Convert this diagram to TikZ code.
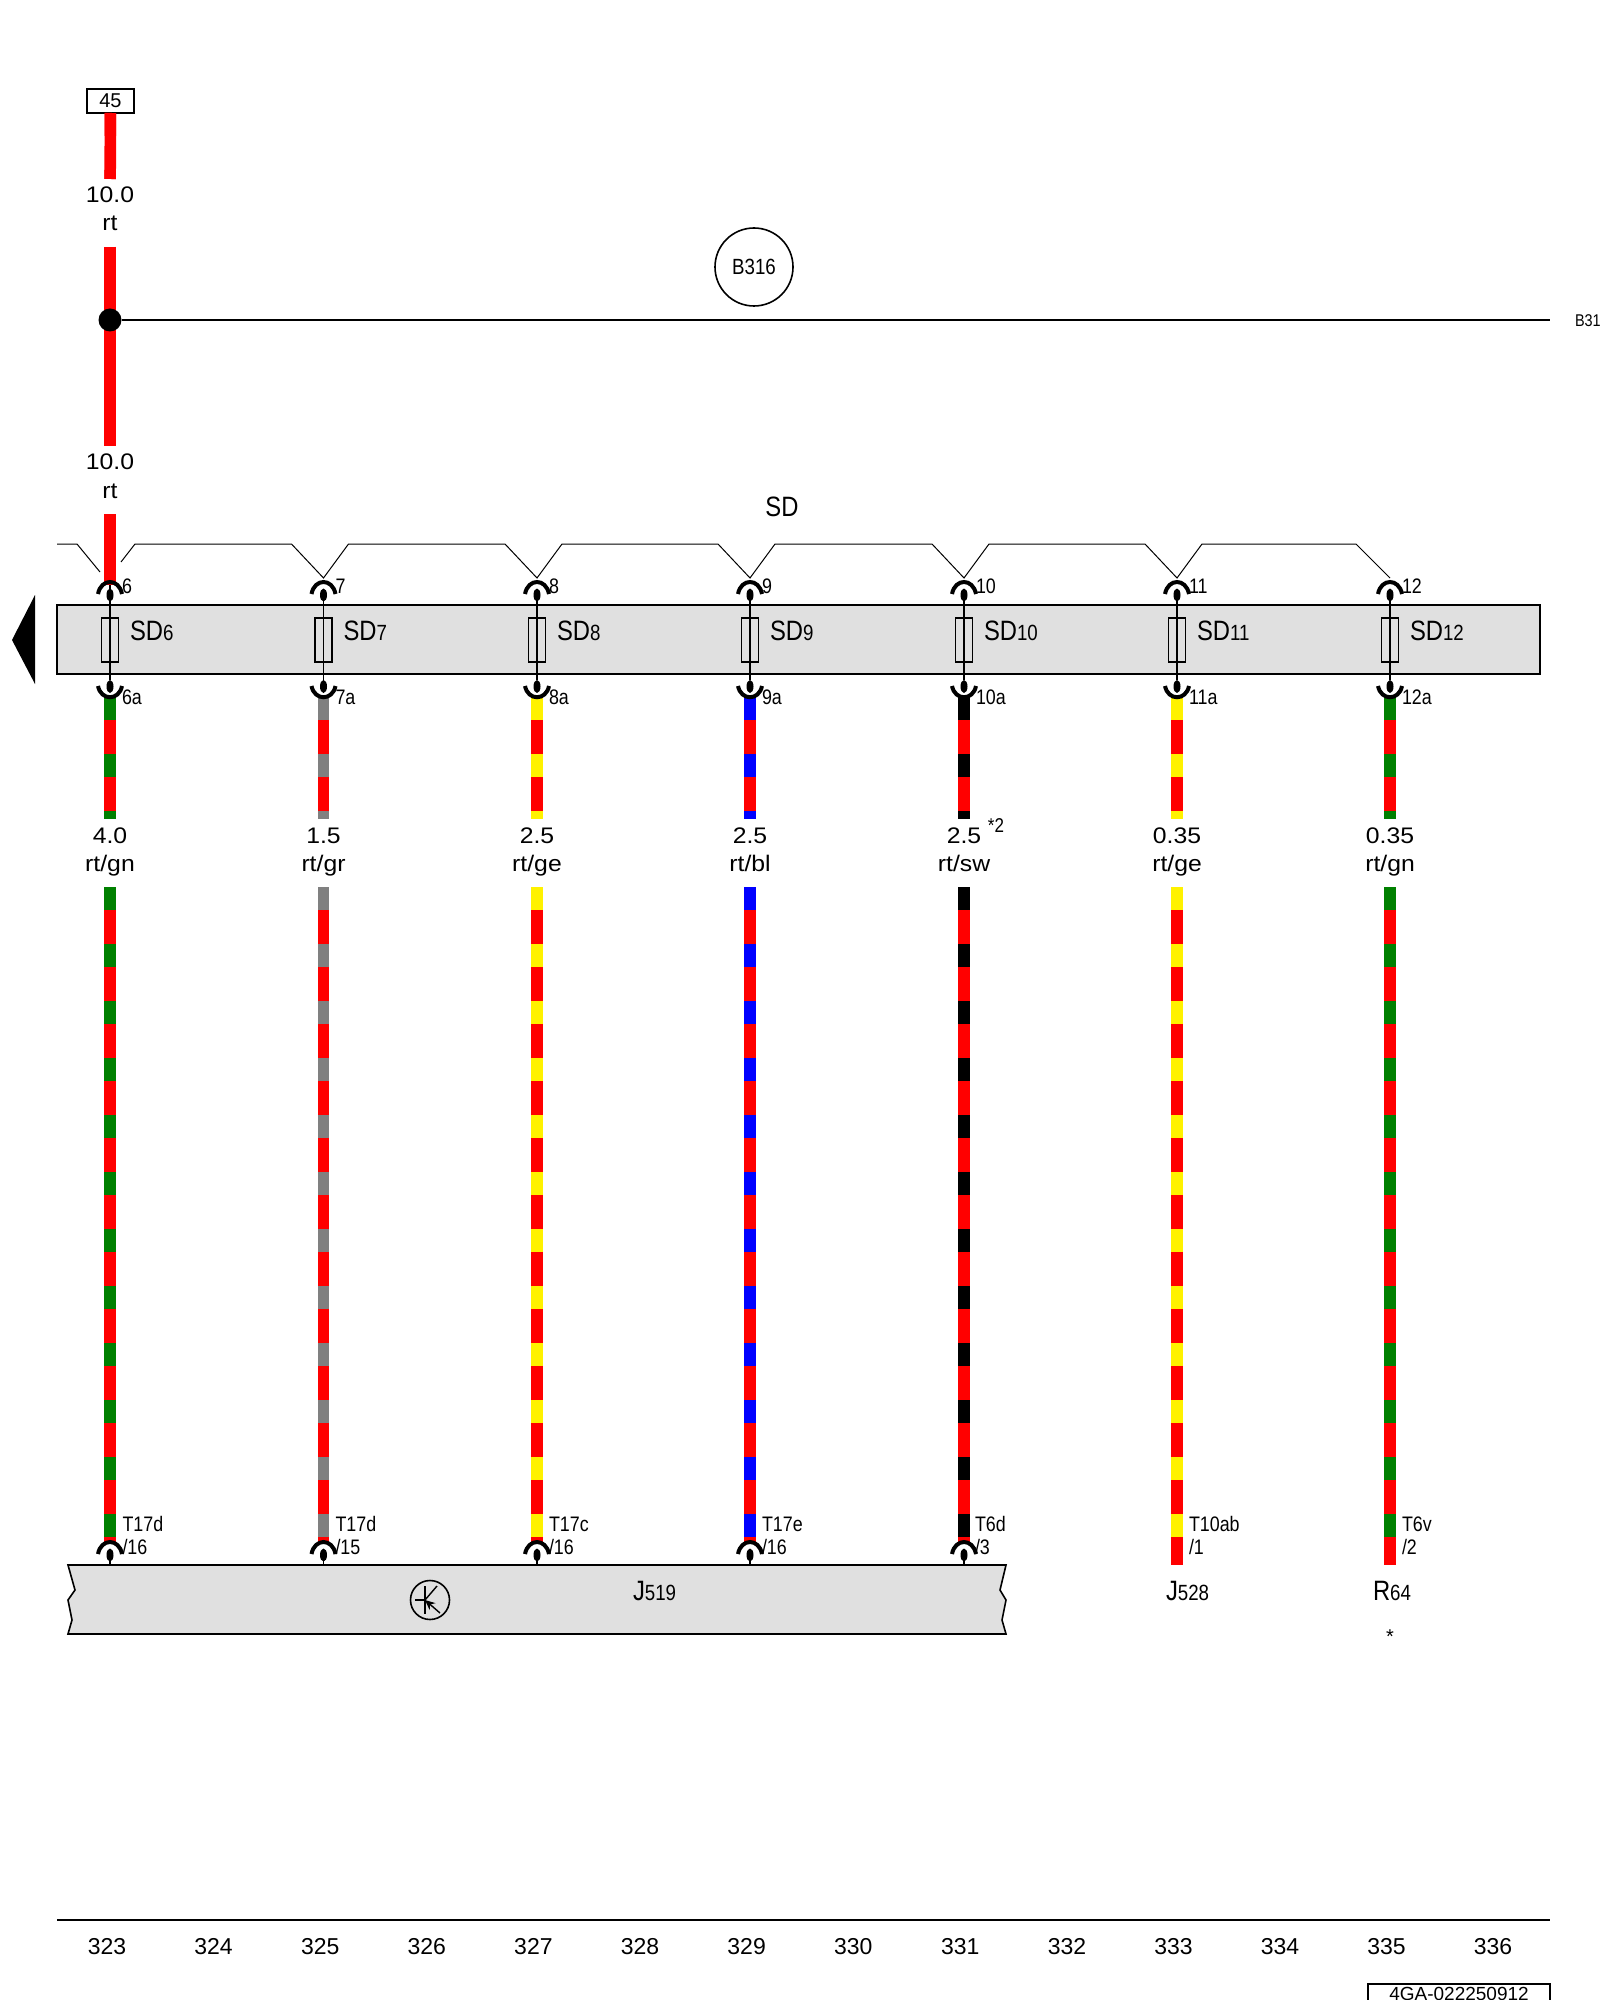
\documentclass[tikz,border=0pt]{standalone}
\usepackage{fontspec}
\usepackage{tikz}
\usetikzlibrary{arrows.meta}
\setmainfont{Liberation Sans}
\newfontfamily\narrowfont[FakeStretch=0.85]{Liberation Sans}
\newfontfamily\widefont[FakeStretch=1.1]{Liberation Sans}
\newcommand{\smalldigits}[1]{{\fontsize{11}{11}\selectfont #1}}
\newcommand{\wiretext}[2]{\rule[-5pt]{0pt}{14pt}#1\\\rule[-5pt]{0pt}{14pt}#2}
\begin{document}
\begin{tikzpicture}[x=0.5pt,y=-0.5pt,
every node/.style={outer sep=0pt},
wire/.style={line width=5.8pt,draw=red,postaction={draw=#1,dash pattern=on 11.5pt off 17pt}},
wirelabel/.style={minimum height=34pt,inner sep=0pt,align=center,font=\widefont\fontsize{11.25}{14}\selectfont},
sdlabel/.style={anchor=base west,inner sep=0pt,font=\narrowfont\fontsize{14}{14}\selectfont},
pinlabel/.style={anchor=base west,inner sep=0pt,font=\narrowfont\fontsize{10.5}{10.5}\selectfont},
fuse/.style={draw,line width=0.6pt,minimum width=8.5pt,minimum height=22pt,inner sep=0pt},
footno/.style={inner sep=0pt,font=\fontsize{11.5}{11.5}\selectfont},
sdline/.style={line width=0.5pt},
pindown/.pic={\draw[line width=2pt] (-12,12) .. controls (-9,-4) and (9,-4) .. (12,12);
\fill (0,13) ellipse [x radius=3.5,y radius=6.5];
\draw[line width=0.8pt] (0,13) -- (0,23);},
pinup/.pic={\draw[line width=2pt] (-12,-11) .. controls (-9,4) and (9,4) .. (12,-11);
\fill (0,-10.5) ellipse [x radius=3.5,y radius=6.5];}]
\useasboundingbox (0,0) rectangle (1600,2000);

\node[draw,line width=0.8pt,minimum width=23.5pt,minimum height=12pt,inner sep=0pt,font=\fontsize{10}{10}\selectfont] (t45) at (110.5,101) {45};
\node[wirelabel] (wt1) at (110,213) {\wiretext{10.0}{rt}};
\node[wirelabel] (wt2) at (110,480) {\wiretext{10.0}{rt}};
\coordinate (t6) at (110,585);
\draw[wire=red] (t45) -- (wt1);
\draw[wire=red] (wt1) -- (wt2);
\draw[wire=red] (wt2) -- (t6);
\node[circle,fill=black,minimum size=11.5pt,inner sep=0pt] (dot) at (110,320) {};
\coordinate (bend) at (1550,320);
\draw[line width=0.8pt] (dot) -- (bend);
\node[anchor=base west,inner sep=0pt,font=\narrowfont\fontsize{8.5}{8.5}\selectfont] (b316r) at (1575,327) {B316};
\node[circle,draw,line width=0.8pt,minimum size=39pt,inner sep=0pt,font=\narrowfont\fontsize{11}{11}\selectfont] (b316) at (754,267) {B316};

\node[inner sep=0pt,font=\narrowfont\fontsize{14}{14}\selectfont] (sd) at (782,507) {SD};
\draw[sdline] (57,544) -- (77,544) -- (100,572);
\draw[sdline] (121,562) -- (135,544) -- (291.5,544) -- (323.5,578) -- (348.5,544) -- (505,544) -- (537,578) -- (562,544) -- (718,544) -- (750,578) -- (775,544) -- (932,544) -- (964,578) -- (989,544) -- (1145,544) -- (1177,578) -- (1202,544) -- (1356,544) -- (1390,578);

\node[draw=black,fill=black!12,line width=0.8pt,minimum width=741.5pt,minimum height=34.5pt,inner sep=0pt] (sdbar) at (798.5,639.5) {};
\fill (12,640) -- (35,595) -- (35,684) -- cycle;

\coordinate (t7) at (323.5,600);
\coordinate (t8) at (537,600);
\coordinate (t9) at (750,600);
\coordinate (t10) at (964,600);
\coordinate (t11) at (1177,600);
\coordinate (t12) at (1390,600);
\coordinate (b6) at (110,680);
\coordinate (b7) at (323.5,680);
\coordinate (b8) at (537,680);
\coordinate (b9) at (750,680);
\coordinate (b10) at (964,680);
\coordinate (b11) at (1177,680);
\coordinate (b12) at (1390,680);
\draw[line width=0.8pt] (t6) -- (b6);
\draw[line width=0.8pt] (t7) -- (b7);
\draw[line width=0.8pt] (t8) -- (b8);
\draw[line width=0.8pt] (t9) -- (b9);
\draw[line width=0.8pt] (t10) -- (b10);
\draw[line width=0.8pt] (t11) -- (b11);
\draw[line width=0.8pt] (t12) -- (b12);

\node[fuse] (f6) at (110,640) {};
\node[fuse] (f7) at (323.5,640) {};
\node[fuse] (f8) at (537,640) {};
\node[fuse] (f9) at (750,640) {};
\node[fuse] (f10) at (964,640) {};
\node[fuse] (f11) at (1177,640) {};
\node[fuse] (f12) at (1390,640) {};

\node[sdlabel] (sd6) at (130,640) {SD\smalldigits{6}};
\node[sdlabel] (sd7) at (343.5,640) {SD\smalldigits{7}};
\node[sdlabel] (sd8) at (557,640) {SD\smalldigits{8}};
\node[sdlabel] (sd9) at (770,640) {SD\smalldigits{9}};
\node[sdlabel] (sd10) at (984,640) {SD\smalldigits{10}};
\node[sdlabel] (sd11) at (1197,640) {SD\smalldigits{11}};
\node[sdlabel] (sd12) at (1410,640) {SD\smalldigits{12}};

\node[pinlabel] (n6) at (122,593) {6};
\node[pinlabel] (n7) at (335.5,593) {7};
\node[pinlabel] (n8) at (549,593) {8};
\node[pinlabel] (n9) at (762,593) {9};
\node[pinlabel] (n10) at (976,593) {10};
\node[pinlabel] (n11) at (1189,593) {11};
\node[pinlabel] (n12) at (1402,593) {12};
\node[pinlabel] (n6a) at (122,704) {6a};
\node[pinlabel] (n7a) at (335.5,704) {7a};
\node[pinlabel] (n8a) at (549,704) {8a};
\node[pinlabel] (n9a) at (762,704) {9a};
\node[pinlabel] (n10a) at (976,704) {10a};
\node[pinlabel] (n11a) at (1189,704) {11a};
\node[pinlabel] (n12a) at (1402,704) {12a};

\coordinate (q6) at (110,697);
\coordinate (q7) at (323.5,697);
\coordinate (q8) at (537,697);
\coordinate (q9) at (750,697);
\coordinate (q10) at (964,697);
\coordinate (q11) at (1177,697);
\coordinate (q12) at (1390,697);
\node[wirelabel] (w6) at (110,853) {\wiretext{4.0}{rt/gn}};
\node[wirelabel] (w7) at (323.5,853) {\wiretext{1.5}{rt/gr}};
\node[wirelabel] (w8) at (537,853) {\wiretext{2.5}{rt/ge}};
\node[wirelabel] (w9) at (750,853) {\wiretext{2.5}{rt/bl}};
\node[wirelabel] (w10) at (964,853) {\wiretext{2.5}{rt/sw}};
\node[wirelabel] (w11) at (1177,853) {\wiretext{0.35}{rt/ge}};
\node[wirelabel] (w12) at (1390,853) {\wiretext{0.35}{rt/gn}};
\node[inner sep=0pt,font=\narrowfont\fontsize{10}{10}\selectfont] (star2) at (996,826) {*2};
\draw[wire={green!50!black}] (q6) -- (w6);
\draw[wire=gray] (q7) -- (w7);
\draw[wire=yellow] (q8) -- (w8);
\draw[wire=blue] (q9) -- (w9);
\draw[wire=black] (q10) -- (w10);
\draw[wire=yellow] (q11) -- (w11);
\draw[wire={green!50!black}] (q12) -- (w12);

\coordinate (e6) at (110,1544);
\coordinate (e7) at (323.5,1544);
\coordinate (e8) at (537,1544);
\coordinate (e9) at (750,1544);
\coordinate (e10) at (964,1544);
\coordinate (e11) at (1177,1565);
\coordinate (e12) at (1390,1565);
\draw[wire={green!50!black}] (w6) -- (e6);
\draw[wire=gray] (w7) -- (e7);
\draw[wire=yellow] (w8) -- (e8);
\draw[wire=blue] (w9) -- (e9);
\draw[wire=black] (w10) -- (e10);
\draw[wire=yellow] (w11) -- (e11);
\draw[wire={green!50!black}] (w12) -- (e12);

\pic at (110,582) {pindown};
\pic at (323.5,582) {pindown};
\pic at (537,582) {pindown};
\pic at (750,582) {pindown};
\pic at (964,582) {pindown};
\pic at (1177,582) {pindown};
\pic at (1390,582) {pindown};
\pic at (110,697) {pinup};
\pic at (323.5,697) {pinup};
\pic at (537,697) {pinup};
\pic at (750,697) {pinup};
\pic at (964,697) {pinup};
\pic at (1177,697) {pinup};
\pic at (1390,697) {pinup};
\pic at (110,1542) {pindown};
\pic at (323.5,1542) {pindown};
\pic at (537,1542) {pindown};
\pic at (750,1542) {pindown};
\pic at (964,1542) {pindown};

\draw[draw=black,fill=black!12,line width=0.8pt] (68,1565) -- (75,1590) -- (68,1600) -- (72,1620) -- (68,1634) -- (1006,1634) -- (1002,1620) -- (1006,1600) -- (1000,1590) -- (1006,1565) -- cycle;
\node[circle,draw,line width=0.8pt,minimum size=19.5pt,inner sep=0pt] (trans) at (430,1600) {};
\draw[line width=0.7pt] (415,1600) -- (425,1600);
\draw[line width=0.7pt] (425,1586) -- (425,1614);
\draw[line width=0.7pt] (425,1600) -- (437,1586);
\draw[line width=0.7pt,-{Stealth[length=5pt,width=4.5pt]}] (440,1613) -- (425,1600);

\node[pinlabel] (c6) at (122.5,1531) {T17d};
\node[pinlabel] (c7) at (335.5,1531) {T17d};
\node[pinlabel] (c8) at (549,1531) {T17c};
\node[pinlabel] (c9) at (762,1531) {T17e};
\node[pinlabel] (c10) at (975,1531) {T6d};
\node[pinlabel] (c11) at (1189,1531) {T10ab};
\node[pinlabel] (c12) at (1402,1531) {T6v};
\node[pinlabel] (d6) at (122.5,1554) {/16};
\node[pinlabel] (d7) at (335.5,1554) {/15};
\node[pinlabel] (d8) at (549,1554) {/16};
\node[pinlabel] (d9) at (762,1554) {/16};
\node[pinlabel] (d10) at (975,1554) {/3};
\node[pinlabel] (d11) at (1189,1554) {/1};
\node[pinlabel] (d12) at (1402,1554) {/2};

\node[sdlabel] (j519) at (633,1600) {J\smalldigits{519}};
\node[sdlabel] (j528) at (1166,1600) {J\smalldigits{528}};
\node[sdlabel] (r64) at (1373,1600) {R\smalldigits{64}};
\node[inner sep=0pt,font=\fontsize{10}{10}\selectfont] (star) at (1390,1637) {*};

\draw[line width=0.8pt] (57,1920) -- (1550,1920);
\node[footno] (p323) at (107,1947) {323};
\node[footno] (p324) at (213.6,1947) {324};
\node[footno] (p325) at (320.2,1947) {325};
\node[footno] (p326) at (426.8,1947) {326};
\node[footno] (p327) at (533.4,1947) {327};
\node[footno] (p328) at (640,1947) {328};
\node[footno] (p329) at (746.6,1947) {329};
\node[footno] (p330) at (853.2,1947) {330};
\node[footno] (p331) at (960.3,1947) {331};
\node[footno] (p332) at (1067,1947) {332};
\node[footno] (p333) at (1173.5,1947) {333};
\node[footno] (p334) at (1280,1947) {334};
\node[footno] (p335) at (1386.5,1947) {335};
\node[footno] (p336) at (1493,1947) {336};

\node[draw,line width=0.8pt,anchor=north,minimum width=91pt,inner xsep=0pt,inner ysep=1.5pt,text depth=12pt,font=\fontsize{9.5}{9.5}\selectfont] (tag) at (1459,1984) {4GA-022250912};
\end{tikzpicture}
\end{document}
